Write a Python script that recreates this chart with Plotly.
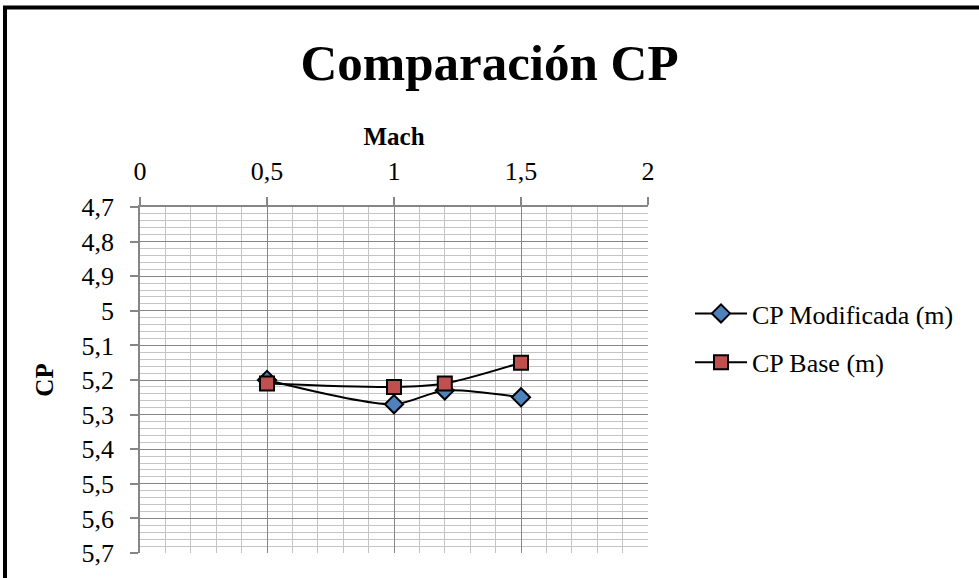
import plotly.graph_objects as go

# Mach numbers and centre-of-pressure positions (m)
mach = [0.5, 1.0, 1.2, 1.5]
cp_modificada = [5.20, 5.27, 5.23, 5.25]
cp_base = [5.21, 5.22, 5.21, 5.15]

W, H = 979, 578
L, R, T, B = 140, 331, 207, 25
PW, PH = W - L - R, H - T - B

FONT = "Liberation Serif"
MAJOR = "#868686"
MINOR = "#C4C4C4"


def px_x(px):
    return (px - L) / PW


def px_y(py):
    return (H - B - py) / PH


fig = go.Figure()

fig.add_trace(go.Scatter(
    x=mach, y=cp_modificada, name="CP Modificada (m)",
    mode="lines+markers", legendgroup="a",
    line=dict(color="black", width=2, shape="spline", smoothing=0.8),
    marker=dict(symbol="diamond", size=14, color="#4F81BD",
                line=dict(color="black", width=2)),
))
fig.add_trace(go.Scatter(
    x=mach, y=cp_base, name="CP Base (m)",
    mode="lines+markers", legendgroup="b",
    line=dict(color="black", width=2, shape="spline", smoothing=0.8),
    marker=dict(symbol="square", size=14, color="#C0504D",
                line=dict(color="black", width=2)),
))

axis_common = dict(
    showgrid=True, gridcolor=MAJOR, gridwidth=1.3,
    showline=True, linecolor=MAJOR, linewidth=1.5,
    ticks="outside", ticklen=8, tickcolor=MAJOR, tickwidth=1.5,
    zeroline=False,
    tickfont=dict(family=FONT, size=26, color="black"),
)

fig.update_xaxes(
    range=[0, 2], side="top", tick0=0, dtick=0.5,
    minor=dict(dtick=0.1, showgrid=True, gridcolor=MINOR, gridwidth=1.3, ticks=""),
    title=dict(text="<b>Mach</b>", font=dict(family=FONT, size=25, color="black"),
               standoff=4),
    ticklabelstandoff=7,
    **axis_common,
)
fig.update_yaxes(
    range=[5.7, 4.7], tick0=4.7, dtick=0.1,
    minor=dict(dtick=0.02, showgrid=True, gridcolor=MINOR, gridwidth=1.3, ticks=""),
    title=dict(text="<b>CP</b>", font=dict(family=FONT, size=25, color="black"),
               standoff=21),
    ticklabelstandoff=11,
    **axis_common,
)

# Outer chart frame (top and left edges visible)
fig.add_shape(type="rect", xref="paper", yref="paper",
              x0=px_x(5), x1=px_x(W + 20), y0=px_y(H + 20), y1=px_y(7.5),
              line=dict(color="black", width=4), fillcolor="rgba(0,0,0,0)",
              layer="above")

fig.update_layout(
    width=W, height=H,
    margin=dict(l=L, r=R, t=T, b=B, autoexpand=False),
    paper_bgcolor="white", plot_bgcolor="white",
    separators=",.",
    title=dict(text="<b>Comparación CP</b>", x=0.5, xanchor="center",
               y=1 - 62 / H, yanchor="middle",
               font=dict(family=FONT, size=51, color="black")),
    legend=dict(x=px_x(690), y=px_y(290), xanchor="left", yanchor="top",
                font=dict(family=FONT, size=26, color="black"),
                itemwidth=52, tracegroupgap=12, bgcolor="rgba(0,0,0,0)"),
    showlegend=True,
)

fig.write_html("out.html")
